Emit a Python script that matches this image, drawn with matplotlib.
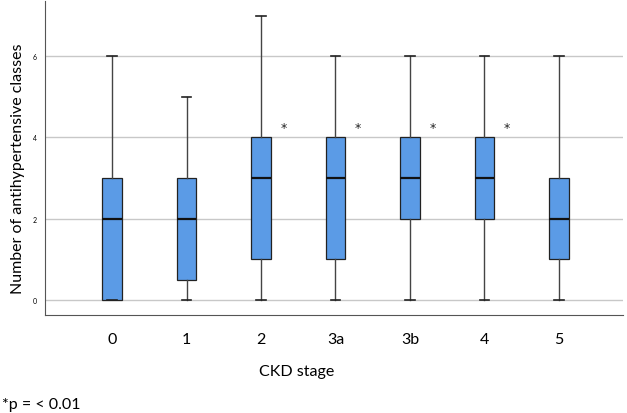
import numpy as np
import matplotlib.pyplot as plt

# CKD stages and box statistics
stages = ['0', '1', '2', '3a', '3b', '4', '5']
whis_lo = [0, 0, 0, 0, 0, 0, 0]
q1 = [0, 0.5, 1, 1, 2, 2, 1]
median = [2, 2, 3, 3, 3, 3, 2]
q3 = [3, 3, 4, 4, 4, 4, 3]
whis_hi = [6, 5, 7, 6, 6, 6, 6]
significant = [False, False, True, True, True, True, False]

plt.rcParams['font.family'] = ['Lato', 'DejaVu Sans']

fig = plt.figure(figsize=(6.27, 4.14), dpi=100)
ax = fig.add_axes([45 / 627, 1 - 316 / 414, (623 - 45) / 627, (316 - 2) / 414])

stats = []
for i in range(len(stages)):
    stats.append(dict(label=stages[i], whislo=whis_lo[i], q1=q1[i], med=median[i],
                      q3=q3[i], whishi=whis_hi[i], fliers=[]))

pos = np.arange(len(stages))
ax.bxp(stats, positions=pos, widths=0.26, patch_artist=True, showfliers=False,
       boxprops=dict(facecolor='#5b9be6', edgecolor='#222222', linewidth=0.9),
       medianprops=dict(color='#111111', linewidth=1.6),
       whiskerprops=dict(color='#444444', linewidth=1.0),
       capprops=dict(color='#222222', linewidth=1.2),
       capwidths=0.13)

# asterisks for p < 0.01
for i in range(len(stages)):
    if significant[i]:
        ax.text(pos[i] + 0.3, 4.25, '*', fontsize=9, ha='center', va='center',
                color='#222222', family='DejaVu Sans')

ax.set_xlim(-0.9, 6.86)
ax.set_ylim(-0.37, 7.36)
ax.set_yticks([0, 2, 4, 6])
ax.set_yticklabels(['0', '2', '4', '6'], fontsize=5)
ax.set_xticks(pos)
ax.set_xticklabels(stages, fontsize=11.5)
ax.tick_params(axis='both', length=0)
ax.tick_params(axis='x', pad=12)
ax.tick_params(axis='y', pad=6)
ax.yaxis.grid(True, color='#c8c8c8', linewidth=1.0)
ax.set_axisbelow(True)

for s in ['top', 'right']:
    ax.spines[s].set_visible(False)
ax.spines['left'].set_color('#555555')
ax.spines['bottom'].set_color('#555555')

ax.set_ylabel('Number of antihypertensive classes', fontsize=11.5)
ax.yaxis.set_label_coords(-0.035, 0.47)

fig.text(297 / 627, 1 - 372 / 414, 'CKD stage', fontsize=11.5, ha='center', va='center')
fig.text(2 / 627, 1 - 405 / 414, '*p = < 0.01', fontsize=11.5, ha='left', va='center')

fig.savefig('out.png', dpi=100)
